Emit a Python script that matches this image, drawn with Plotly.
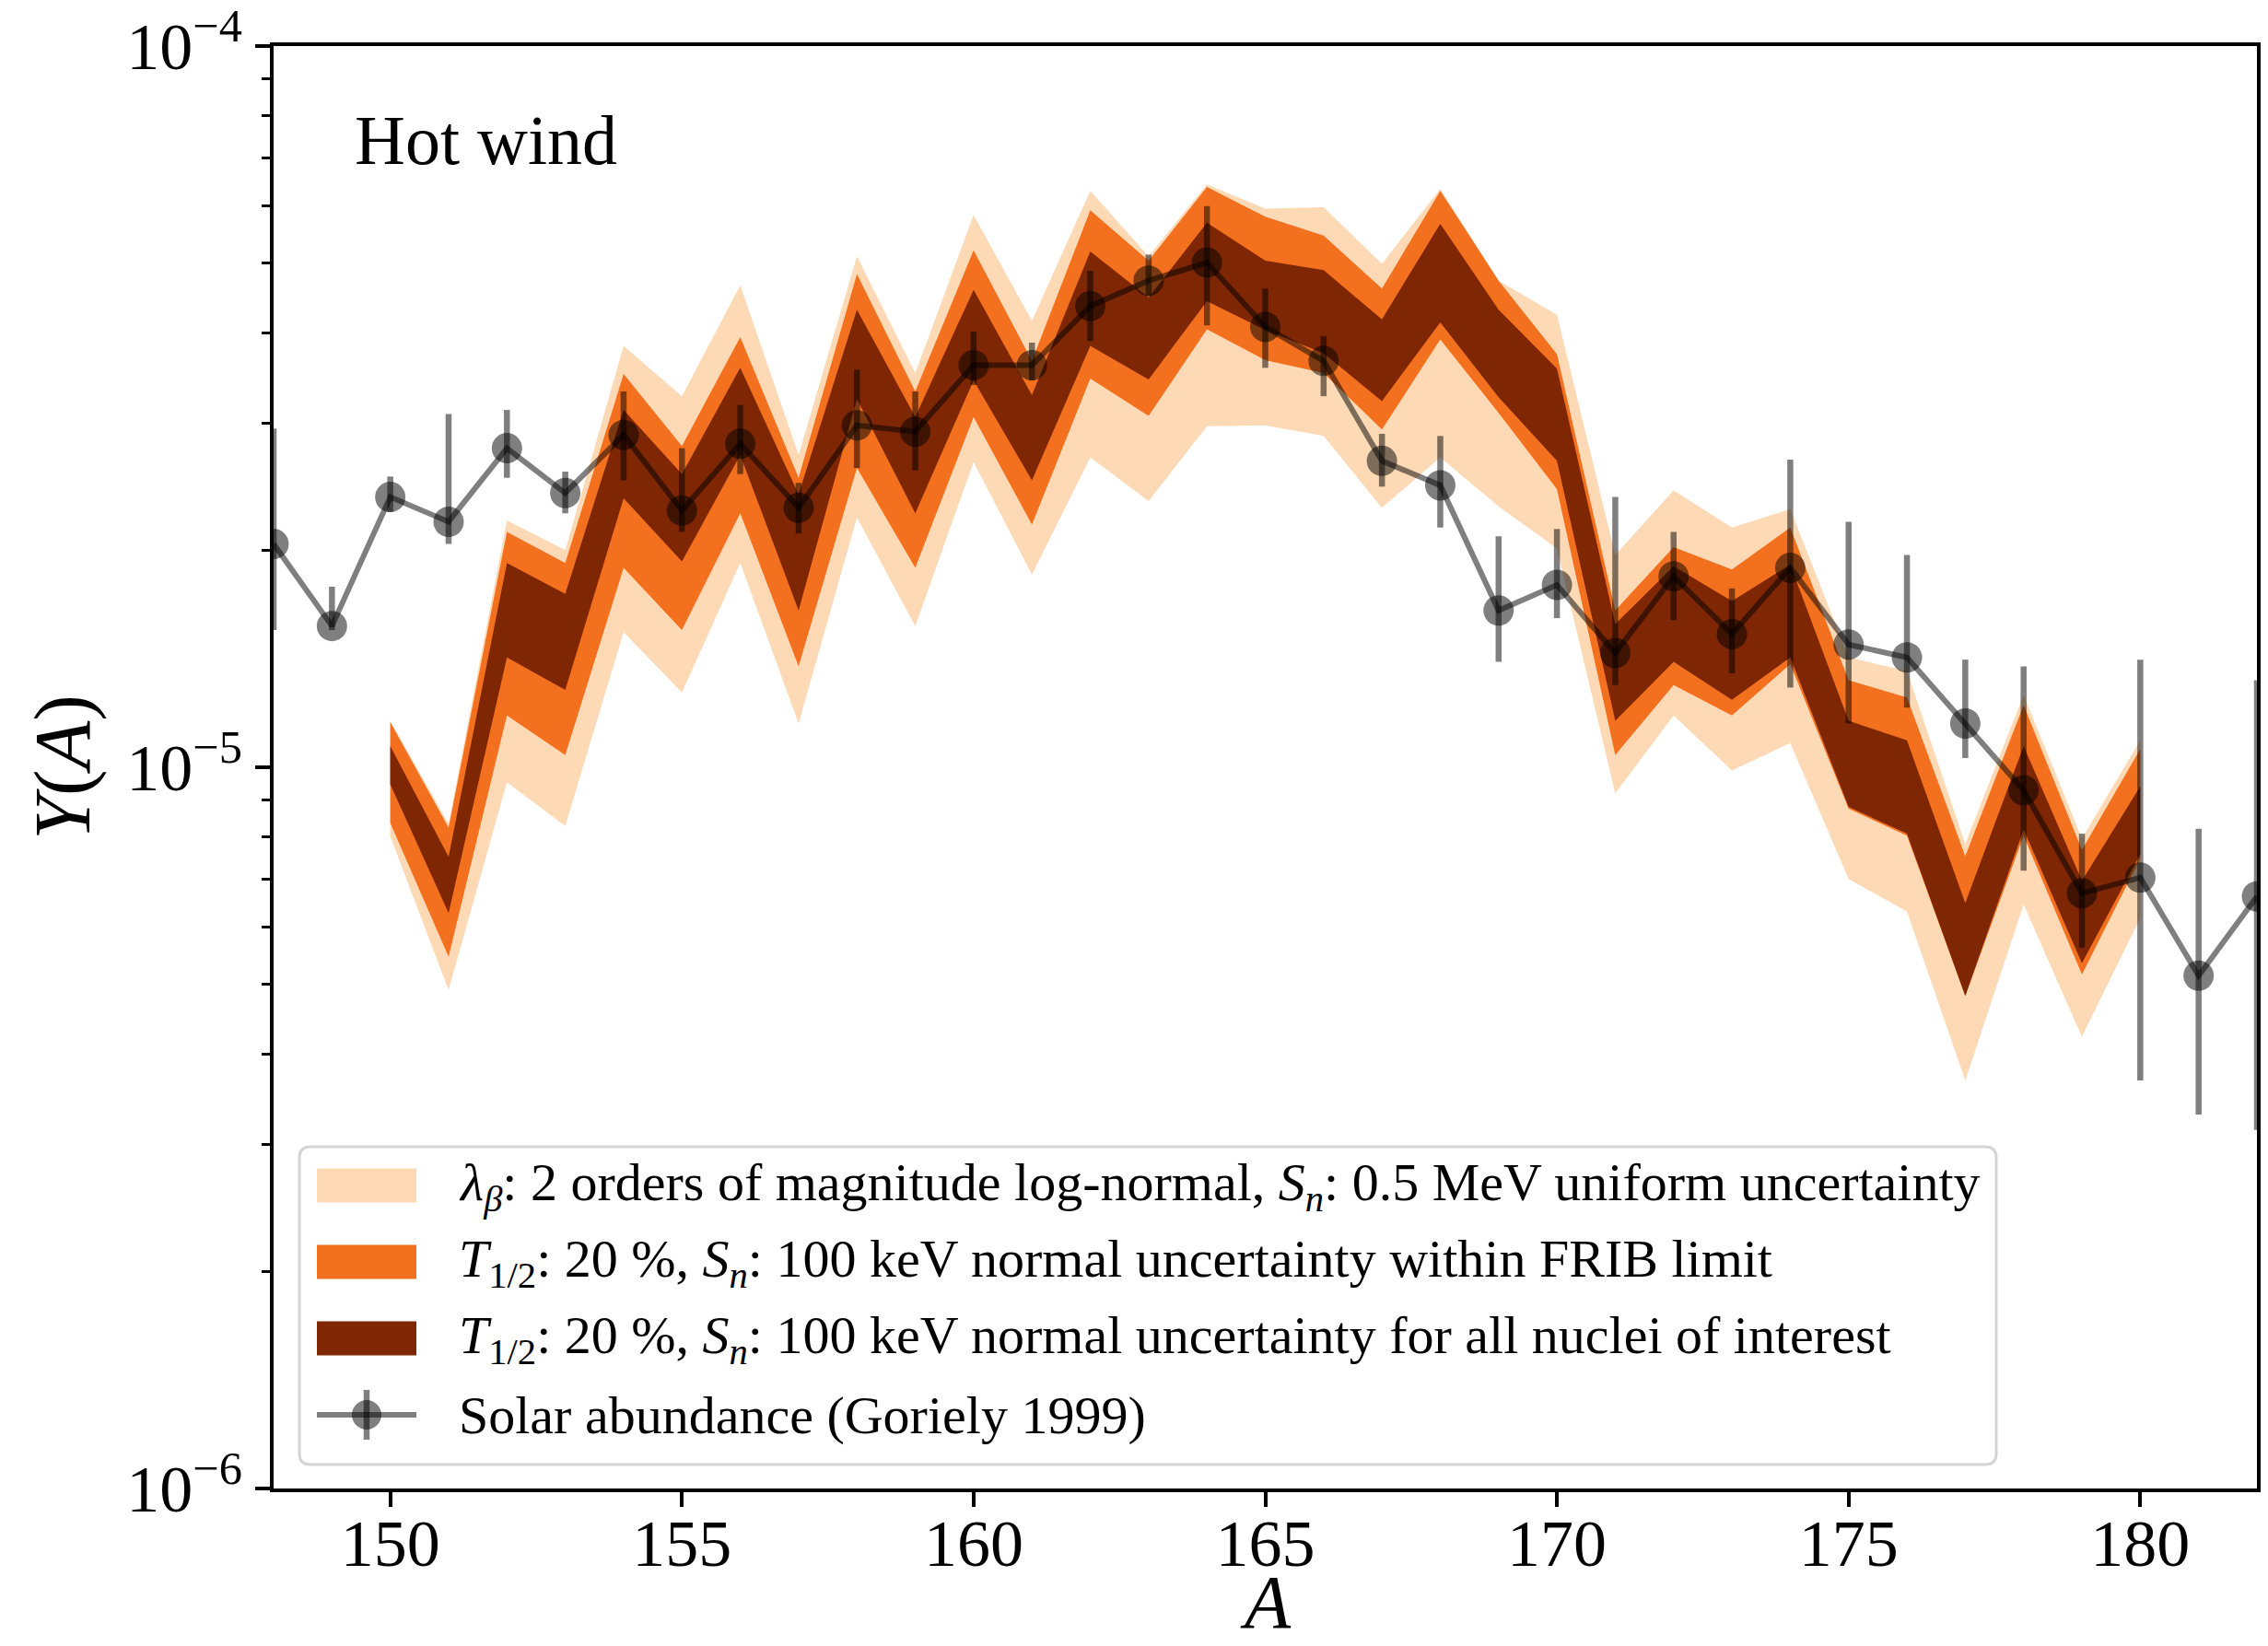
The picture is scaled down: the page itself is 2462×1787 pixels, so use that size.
import plotly.graph_objects as go

# ---- r-process abundance bands (mass number A = 150 .. 180) ----
A_band = list(range(150, 181))

light_hi = [1.16e-5, 8.35e-6, 2.20e-5, 2.00e-5, 3.84e-5, 3.27e-5, 4.66e-5, 2.71e-5, 5.11e-5, 3.52e-5,
            5.83e-5, 4.16e-5, 6.30e-5, 5.11e-5, 6.43e-5, 5.95e-5, 5.98e-5, 4.99e-5, 6.34e-5, 4.73e-5,
            4.24e-5, 1.97e-5, 2.42e-5, 2.15e-5, 2.28e-5, 1.42e-5, 1.36e-5, 7.83e-6, 1.26e-5, 7.96e-6,
            1.09e-5]
light_lo = [8.02e-6, 4.91e-6, 9.53e-6, 8.29e-6, 1.54e-5, 1.27e-5, 1.92e-5, 1.15e-5, 2.22e-5, 1.57e-5,
            2.65e-5, 1.85e-5, 2.69e-5, 2.34e-5, 2.97e-5, 2.98e-5, 2.88e-5, 2.29e-5, 2.69e-5, 2.30e-5,
            2.01e-5, 9.20e-6, 1.18e-5, 9.90e-6, 1.08e-5, 7.00e-6, 6.31e-6, 3.68e-6, 6.45e-6, 4.23e-6,
            6.18e-6]

frib_hi = [1.155e-5, 8.25e-6, 2.12e-5, 1.92e-5, 3.51e-5, 2.79e-5, 3.95e-5, 2.52e-5, 4.83e-5, 3.32e-5,
           5.21e-5, 3.66e-5, 5.92e-5, 5.04e-5, 6.38e-5, 5.80e-5, 5.46e-5, 4.61e-5, 6.30e-5, 4.73e-5,
           3.74e-5, 1.65e-5, 2.02e-5, 1.88e-5, 2.15e-5, 1.32e-5, 1.25e-5, 7.53e-6, 1.22e-5, 7.68e-6,
           1.06e-5]
frib_lo = [8.37e-6, 5.46e-6, 1.18e-5, 1.04e-5, 1.89e-5, 1.55e-5, 2.25e-5, 1.38e-5, 2.60e-5, 1.89e-5,
           3.06e-5, 2.17e-5, 3.46e-5, 3.07e-5, 4.05e-5, 3.67e-5, 3.52e-5, 2.94e-5, 3.92e-5, 3.10e-5,
           2.43e-5, 1.04e-5, 1.30e-5, 1.18e-5, 1.39e-5, 8.76e-6, 8.04e-6, 4.82e-6, 8.04e-6, 5.16e-6,
           7.48e-6]

all_hi = [1.07e-5, 7.51e-6, 1.92e-5, 1.74e-5, 3.13e-5, 2.55e-5, 3.58e-5, 2.39e-5, 4.31e-5, 3.06e-5,
          4.59e-5, 3.28e-5, 5.19e-5, 4.48e-5, 5.69e-5, 5.04e-5, 4.89e-5, 4.18e-5, 5.67e-5, 4.31e-5,
          3.57e-5, 1.58e-5, 1.90e-5, 1.70e-5, 1.91e-5, 1.16e-5, 1.09e-5, 6.48e-6, 1.07e-5, 6.96e-6,
          9.41e-6]
all_lo = [9.47e-6, 6.28e-6, 1.42e-5, 1.28e-5, 2.36e-5, 1.93e-5, 2.71e-5, 1.65e-5, 3.24e-5, 2.25e-5,
          3.44e-5, 2.50e-5, 3.84e-5, 3.45e-5, 4.43e-5, 4.04e-5, 3.75e-5, 3.22e-5, 4.14e-5, 3.26e-5,
          2.66e-5, 1.16e-5, 1.40e-5, 1.24e-5, 1.42e-5, 8.81e-6, 8.09e-6, 4.82e-6, 8.20e-6, 5.35e-6,
          7.58e-6]

# ---- solar r-process abundances (Goriely 1999), A = 148 .. 182 ----
A_solar = list(range(148, 183))
solar_y = [2.04e-5, 1.57e-5, 2.37e-5, 2.19e-5, 2.77e-5, 2.40e-5, 2.89e-5, 2.27e-5, 2.81e-5, 2.29e-5,
           2.98e-5, 2.92e-5, 3.61e-5, 3.61e-5, 4.36e-5, 4.73e-5, 5.01e-5, 4.08e-5, 3.66e-5, 2.66e-5,
           2.46e-5, 1.65e-5, 1.79e-5, 1.44e-5, 1.84e-5, 1.53e-5, 1.89e-5, 1.48e-5, 1.42e-5, 1.15e-5,
           9.29e-6, 6.69e-6, 7.03e-6, 5.14e-6, 6.62e-6]
solar_hi = [2.95e-5, 1.78e-5, 2.53e-5, 3.09e-5, 3.13e-5, 2.57e-5, 3.32e-5, 2.77e-5, 3.18e-5, 2.48e-5,
            3.56e-5, 3.32e-5, 4.02e-5, 3.88e-5, 4.88e-5, 5.14e-5, 6.00e-5, 4.61e-5, 3.96e-5, 2.90e-5,
            2.88e-5, 2.09e-5, 2.14e-5, 2.37e-5, 2.12e-5, 1.77e-5, 2.67e-5, 2.19e-5, 1.97e-5, 1.41e-5,
            1.38e-5, 8.09e-6, 1.41e-5, 8.22e-6, 1.32e-5]
solar_lo = [1.55e-5, 1.55e-5, 2.26e-5, 2.04e-5, 2.52e-5, 2.25e-5, 2.50e-5, 2.12e-5, 2.55e-5, 2.11e-5,
            2.60e-5, 2.58e-5, 3.39e-5, 3.44e-5, 3.90e-5, 4.50e-5, 4.10e-5, 3.58e-5, 3.27e-5, 2.45e-5,
            2.15e-5, 1.40e-5, 1.61e-5, 1.30e-5, 1.60e-5, 1.35e-5, 1.29e-5, 1.15e-5, 1.21e-5, 1.03e-5,
            7.19e-6, 5.62e-6, 3.68e-6, 3.30e-6, 3.14e-6]

legend_labels = [
    "<i>λ</i><sub><i>β</i></sub>: 2 orders of magnitude log-normal, <i>S</i><sub><i>n</i></sub>: 0.5 MeV uniform uncertainty",
    "<i>T</i><sub>1/2</sub>: 20 %, <i>S</i><sub><i>n</i></sub>: 100 keV normal uncertainty within FRIB limit",
    "<i>T</i><sub>1/2</sub>: 20 %, <i>S</i><sub><i>n</i></sub>: 100 keV normal uncertainty for all nuclei of interest",
    "Solar abundance (Goriely 1999)",
]

C_LIGHT = "#fdd9b5"
C_ORANGE = "#f3701f"
C_DARK = "#7f2704"
C_SOLAR = "rgba(0,0,0,0.5)"
FONT = "Liberation Serif"

W, H = 2462, 1787
PL, PR, PT, PB = 297, 2450, 50, 1616   # plot-area edges in pixels


def px(X):
    return (X - PL) / (PR - PL)


def py(Y):
    return (PB - Y) / (PB - PT)


def band(hi, lo, color):
    return go.Scatter(x=A_band + A_band[::-1], y=hi + lo[::-1], mode="lines",
                      fill="toself", fillcolor=color, line=dict(width=0, color=color),
                      hoverinfo="skip", showlegend=False)


fig = go.Figure()
fig.add_trace(band(light_hi, light_lo, C_LIGHT))
fig.add_trace(band(frib_hi, frib_lo, C_ORANGE))
fig.add_trace(band(all_hi, all_lo, C_DARK))

fig.add_trace(go.Scatter(
    x=A_solar, y=solar_y, mode="lines+markers",
    line=dict(color=C_SOLAR, width=6),
    marker=dict(size=33, color=C_SOLAR, line=dict(width=0)),
    error_y=dict(type="data", symmetric=False,
                 array=[h - v for h, v in zip(solar_hi, solar_y)],
                 arrayminus=[v - l for v, l in zip(solar_y, solar_lo)],
                 color=C_SOLAR, thickness=6.5, width=0),
    showlegend=False))

# ---- hand-built legend box ----
shapes = []
bx0, bx1, by0, by1, r = 325, 2167, 1245, 1590, 12
path = (f"M {px(bx0 + r)},{py(by0)} L {px(bx1 - r)},{py(by0)} "
        f"Q {px(bx1)},{py(by0)} {px(bx1)},{py(by0 + r)} "
        f"L {px(bx1)},{py(by1 - r)} Q {px(bx1)},{py(by1)} {px(bx1 - r)},{py(by1)} "
        f"L {px(bx0 + r)},{py(by1)} Q {px(bx0)},{py(by1)} {px(bx0)},{py(by1 - r)} "
        f"L {px(bx0)},{py(by0 + r)} Q {px(bx0)},{py(by0)} {px(bx0 + r)},{py(by0)} Z")
shapes.append(dict(type="path", xref="paper", yref="paper", path=path,
                   fillcolor="rgba(255,255,255,0.8)", line=dict(color="#d4d4d4", width=3)))

rows = [1287, 1370, 1453, 1536]
patch_x0, patch_x1, patch_h = 344, 452, 37
for yc, col in zip(rows[:3], [C_LIGHT, C_ORANGE, C_DARK]):
    shapes.append(dict(type="rect", xref="paper", yref="paper",
                       x0=px(patch_x0), x1=px(patch_x1),
                       y0=py(yc + patch_h / 2), y1=py(yc - patch_h / 2),
                       fillcolor=col, line=dict(width=0)))
yc = rows[3]
xc = (patch_x0 + patch_x1) / 2
shapes.append(dict(type="line", xref="paper", yref="paper",
                   x0=px(patch_x0), x1=px(patch_x1), y0=py(yc), y1=py(yc),
                   line=dict(color=C_SOLAR, width=6)))
shapes.append(dict(type="line", xref="paper", yref="paper",
                   x0=px(xc), x1=px(xc), y0=py(yc - 27), y1=py(yc + 27),
                   line=dict(color=C_SOLAR, width=6.5)))
shapes.append(dict(type="circle", xref="paper", yref="paper",
                   x0=px(xc - 16), x1=px(xc + 16), y0=py(yc + 16), y1=py(yc - 16),
                   fillcolor=C_SOLAR, line=dict(width=0)))

annotations = []
for yc, txt in zip(rows, legend_labels):
    annotations.append(dict(xref="paper", yref="paper", x=px(496), y=py(yc),
                            xanchor="left", yanchor="middle", text=txt, showarrow=False,
                            font=dict(family=FONT, size=58, color="black")))

annotations.append(dict(xref="paper", yref="paper", x=px(383), y=py(152),
                        xanchor="left", yanchor="middle", text="Hot wind", showarrow=False,
                        font=dict(family=FONT, size=76, color="black")))

# x-axis title sitting at the bottom edge of the figure, under the tick labels
annotations.append(dict(xref="paper", yref="paper", x=0.5, y=py(H - 1),
                        xanchor="center", yanchor="bottom", text="<i>A</i>", showarrow=False,
                        borderpad=0, font=dict(family=FONT, size=82, color="black")))

minor_vals = [k * 10.0 ** e for e in (-6, -5) for k in range(2, 10)]

fig.update_layout(
    width=W, height=H,
    margin=dict(l=PL, r=W - PR, t=PT, b=H - PB, autoexpand=False),
    paper_bgcolor="white", plot_bgcolor="white",
    font=dict(family=FONT, color="black"),
    shapes=shapes, annotations=annotations,
    showlegend=False,
    xaxis=dict(range=[148, 182], tick0=150, dtick=5, ticks="outside", ticklen=16,
               tickwidth=3.5, tickcolor="black", showline=True, linewidth=3.5,
               linecolor="black", mirror=True, showgrid=False, zeroline=False,
               automargin=False, ticklabelstandoff=-22,
               tickfont=dict(family=FONT, size=72, color="black")),
    yaxis=dict(type="log", range=[-6.0001, -3.9999], tickmode="array",
               tickvals=[1e-6, 1e-5, 1e-4],
               ticktext=["10<sup>−6</sup>", "10<sup>−5</sup>", "10<sup>−4</sup>"],
               ticks="outside", ticklen=16, tickwidth=3.5, tickcolor="black",
               minor=dict(tickmode="array", tickvals=minor_vals, ticks="outside",
                          ticklen=9, tickwidth=3, tickcolor="black", showgrid=False),
               showline=True, linewidth=3.5, linecolor="black", mirror=True,
               showgrid=False, zeroline=False, automargin=False,
               tickfont=dict(family=FONT, size=72, color="black"),
               title=dict(text="<i>Y</i>(<i>A</i>)", font=dict(family=FONT, size=86, color="black"),
                          standoff=12)),
)

fig.write_html("out.html")
